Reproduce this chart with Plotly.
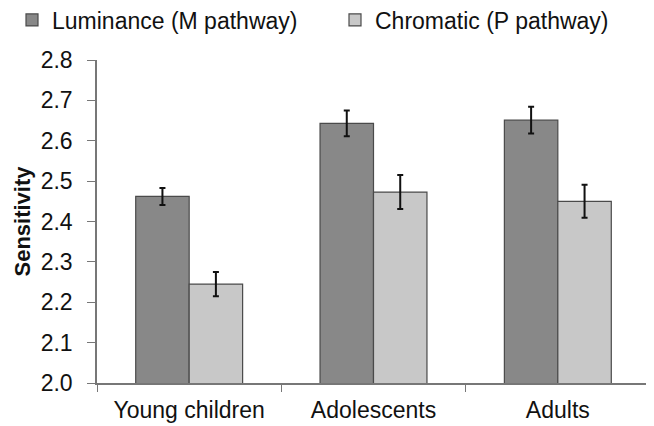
import plotly.graph_objects as go

categories = ["Young children", "Adolescents", "Adults"]
luminance = [2.462, 2.643, 2.651]
luminance_err = [0.021, 0.032, 0.033]
chromatic = [2.245, 2.473, 2.450]
chromatic_err = [0.030, 0.042, 0.041]
y_ticks = [2.0, 2.1, 2.2, 2.3, 2.4, 2.5, 2.6, 2.7, 2.8]

W, H = 646, 418  # page body adds an 8px offset

fig = go.Figure()
fig.add_trace(go.Bar(
    x=categories, y=luminance, name="Luminance (M pathway)", legend="legend",
    marker=dict(color="#888888", line=dict(color="#4a4a4a", width=1.2)),
    error_y=dict(type="data", array=luminance_err, color="#111111", thickness=2, width=3),
))
fig.add_trace(go.Bar(
    x=categories, y=chromatic, name="Chromatic (P pathway)", legend="legend2",
    marker=dict(color="#c8c8c8", line=dict(color="#4a4a4a", width=1.2)),
    error_y=dict(type="data", array=chromatic_err, color="#111111", thickness=2, width=3),
))

leg_common = dict(orientation="h", xref="container", yref="container",
                  y=1 - 12 / H, xanchor="left", yanchor="middle",
                  font=dict(size=23), bgcolor="rgba(0,0,0,0)")

fig.update_layout(
    width=W, height=H,
    margin=dict(l=89, r=4, t=52, b=43, autoexpand=False),
    paper_bgcolor="white", plot_bgcolor="white",
    barmode="group", bargap=0.42, bargroupgap=0,
    font=dict(family="Liberation Sans, Arial, sans-serif", size=23, color="#111111"),
    showlegend=True,
    legend=dict(x=4 / W, **leg_common),
    legend2=dict(x=327 / W, **leg_common),
    xaxis=dict(showline=True, linecolor="#777777", linewidth=1.5,
               ticks="outside", tickson="boundaries", ticklen=7, tickcolor="#777777",
               ticklabelstandoff=6,
               tickfont=dict(size=23), showgrid=False, automargin=False),
    yaxis=dict(range=[2.0, 2.8], tickvals=y_ticks, ticktext=[f"{v:.1f}" for v in y_ticks],
               showline=True, linecolor="#777777", linewidth=1.5,
               ticks="outside", ticklen=8, tickcolor="#777777",
               ticklabelstandoff=10,
               tickfont=dict(size=23), showgrid=False, zeroline=False, automargin=False,
               title=dict(text="<b>Sensitivity</b>", font=dict(size=22), standoff=4)),
)

fig.write_html("out.html")
